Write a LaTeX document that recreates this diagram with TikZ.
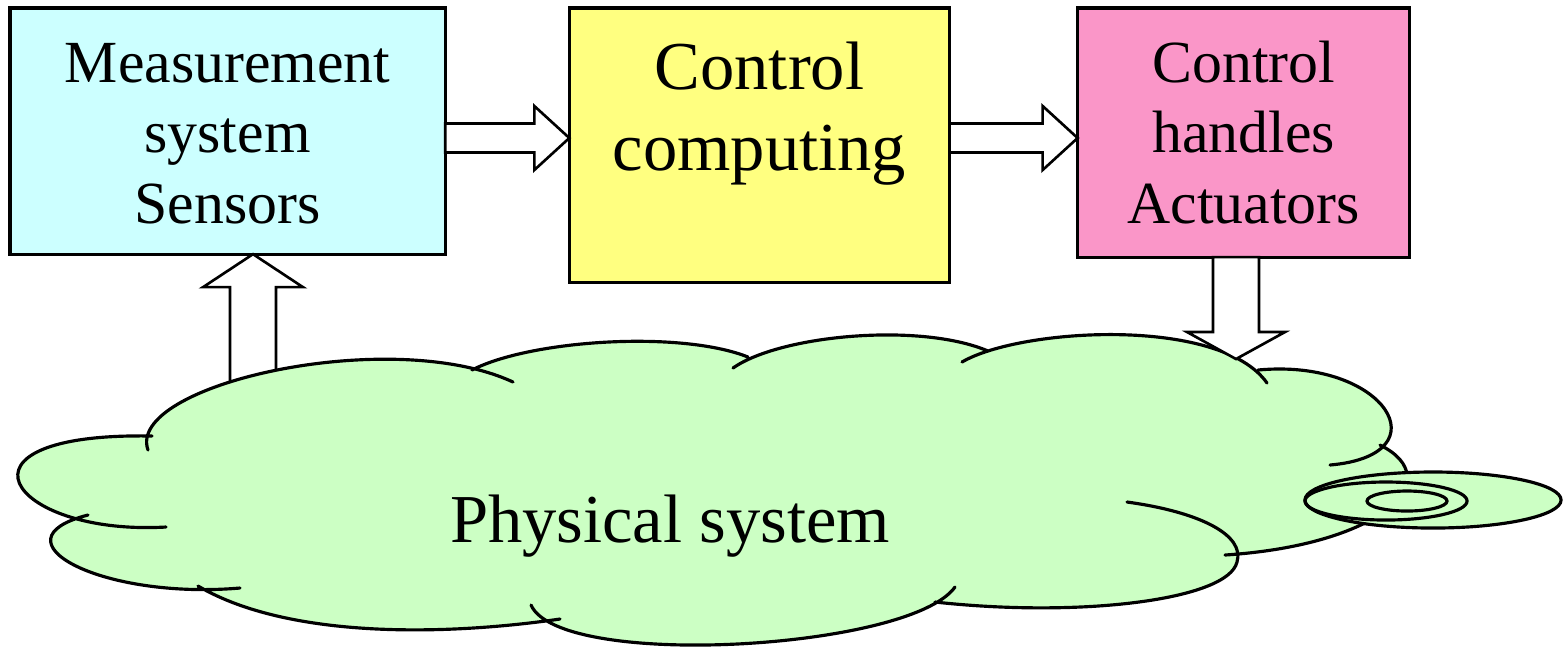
\documentclass[tikz,border=0pt]{standalone}
\usepackage{fontspec}
\setmainfont{Liberation Serif}
\usetikzlibrary{calc}
\usetikzlibrary{positioning}

\definecolor{measfill}{RGB}{204,255,255}
\definecolor{compfill}{RGB}{255,255,128}
\definecolor{actfill}{RGB}{250,150,200}
\definecolor{cloudfill}{RGB}{204,255,196}

\newcommand{\lobeK}{(166,527) .. controls (8,536) and (-62,432) .. (152,436)}
\newcommand{\lobeA}{(148,450) .. controls (125,385) and (390,325) .. (513,382)}
\newcommand{\lobeB}{(472,370) .. controls (530,340) and (680,330) .. (748,357)}
\newcommand{\lobeC}{(733,368) .. controls (780,335) and (920,322) .. (988,351)}
\newcommand{\lobeD}{(962,362) .. controls (1020,328) and (1220,316) .. (1267,383)}
\newcommand{\lobeE}{(1258,370) .. controls (1385,358) and (1445,455) .. (1330,465)}
\newcommand{\lobeF}{(1380,445) .. controls (1450,480) and (1380,545) .. (1225,555)}
\newcommand{\lobeG}{(1127,502) .. controls (1200,512) and (1245,535) .. (1237,562) .. controls (1228,600) and (1080,618) .. (935,602)}
\newcommand{\lobeH}{(955,587) .. controls (910,650) and (560,670) .. (531,605)}
\newcommand{\lobeI}{(560,619) .. controls (450,635) and (290,640) .. (198,586)}
\newcommand{\lobeJ}{(240,588) .. controls (100,600) and (-10,540) .. (88,515)}

\tikzset{
  box/.style={draw, line width=0.9pt, inner sep=0pt, outer sep=0pt, align=center, anchor=north west},
  smallfont/.style={font=\fontsize{17}{20}\selectfont},
  bigfont/.style={font=\fontsize{19.5}{23}\selectfont},
  hollow/.style={draw, fill=white, line width=0.75pt},
  cloudline/.style={draw, line width=0.9pt, line cap=round}
}

\begin{document}
\begin{tikzpicture}[x=0.01cm,y=-0.01cm]
  \useasboundingbox (0,0) rectangle (1564,650);

  \node[box, smallfont, fill=measfill, minimum width=4.35cm, text height=2.15cm, text depth=0.31cm] (meas) at (10,8) {Measurement\\system\\Sensors};
  \node[box, bigfont, fill=compfill, minimum width=3.8cm, text height=1.62cm, text depth=1.12cm, right=1.24cm of meas.north east, anchor=north west] (comp) {Control\\computing};
  \node[box, smallfont, fill=actfill, minimum width=3.32cm, text height=2.15cm, text depth=0.34cm, right=1.28cm of comp.north east, anchor=north west] (act) {Control\\handles\\Actuators};

  \coordinate (lvl) at (0,138);
  \coordinate (t1) at (meas.east |- lvl);
  \coordinate (h1) at (comp.west |- lvl);
  \coordinate (t2) at (comp.east |- lvl);
  \coordinate (h2) at (act.west |- lvl);
  \foreach \t/\h in {t1/h1,t2/h2} {
    \draw[hollow] ($(\t)+(0,-14.5)$) -- ($(\h)+(-35,-14.5)$) -- ($(\h)+(-35,-32)$) -- (\h) -- ($(\h)+(-35,32)$) -- ($(\h)+(-35,14.5)$) -- ($(\t)+(0,14.5)$) -- cycle;
  }

  \coordinate (rise) at (253,385);
  \coordinate (u1) at (rise |- meas.south);
  \draw[hollow] ($(rise)+(-23,0)$) -- ($(u1)+(-23,33)$) -- ($(u1)+(-50,33)$) -- (u1) -- ($(u1)+(50,33)$) -- ($(u1)+(23,33)$) -- ($(rise)+(23,0)$) -- cycle;

  \fill[cloudfill] \lobeK -- \lobeA -- \lobeB -- \lobeC -- \lobeD -- \lobeE -- \lobeF -- \lobeG -- \lobeH -- \lobeI -- \lobeJ -- cycle;
  \draw[cloudline] \lobeK \lobeA \lobeB \lobeC \lobeD \lobeE \lobeF \lobeG \lobeH \lobeI \lobeJ;

  \draw[cloudline, fill=cloudfill] (1433,500) ellipse [x radius=1.28cm, y radius=0.28cm];
  \draw[cloudline] (1386,501) ellipse [x radius=0.81cm, y radius=0.19cm];
  \draw[cloudline] (1407,501) ellipse [x radius=0.4cm, y radius=0.1cm];

  \node[bigfont, anchor=base] (phys) at (670,542) {Physical system};

  \coordinate (drop) at (1236,359);
  \coordinate (d0) at (drop |- act.south);
  \draw[hollow] ($(d0)+(-23,0)$) -- ($(drop)+(-23,-27)$) -- ($(drop)+(-49,-27)$) -- (drop) -- ($(drop)+(49,-27)$) -- ($(drop)+(23,-27)$) -- ($(d0)+(23,0)$) -- cycle;
\end{tikzpicture}
\end{document}
